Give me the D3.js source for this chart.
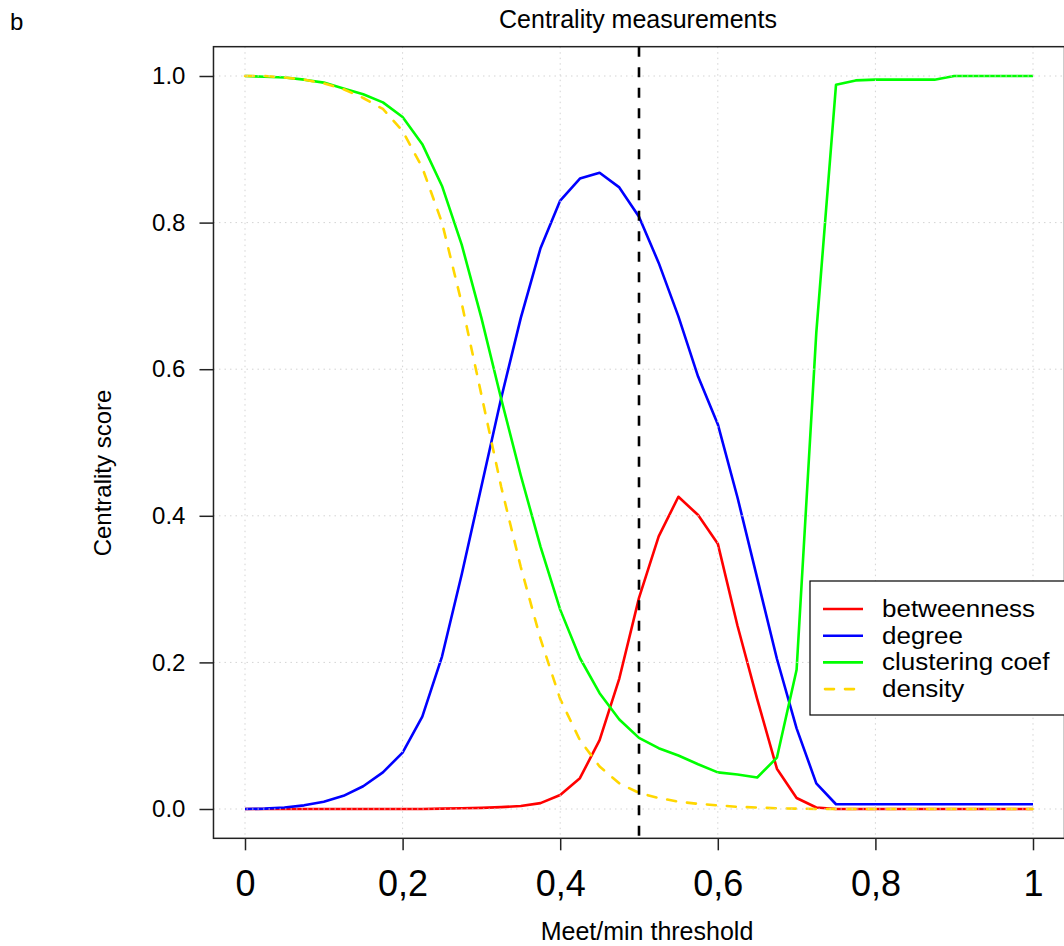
<!DOCTYPE html>
<html>
<head>
<meta charset="utf-8">
<script src="https://cdn.jsdelivr.net/npm/d3@7"></script>
<style>
  body { margin: 0; background: #fff; }
  svg { display: block; font-family: "Liberation Sans", Arial, sans-serif; }
</style>
</head>
<body>
<div id="vis"></div>
<script>
const FRAME_WIDTH = 1064;
const FRAME_HEIGHT = 946;

// threshold values on the x axis
const thresholds = [0, 0.025, 0.05, 0.075, 0.1, 0.125, 0.15, 0.175, 0.2, 0.225,
  0.25, 0.275, 0.3, 0.325, 0.35, 0.375, 0.4, 0.425, 0.45, 0.475,
  0.5, 0.525, 0.55, 0.575, 0.6, 0.625, 0.65, 0.675, 0.7, 0.725,
  0.75, 0.775, 0.8, 0.825, 0.85, 0.875, 0.9, 0.925, 0.95, 0.975, 1];

const betweenness = [0, 0, 0, 0, 0, 0, 0, 0, 0, 0,
  0.0005, 0.001, 0.0015, 0.0025, 0.004, 0.008, 0.019, 0.042, 0.094, 0.178,
  0.288, 0.372, 0.426, 0.401, 0.362, 0.25, 0.15, 0.055, 0.015, 0.002,
  0, 0, 0, 0, 0, 0, 0, 0, 0, 0, 0];

const degree = [0, 0.0005, 0.002, 0.005, 0.01, 0.018, 0.031, 0.05, 0.077, 0.126,
  0.208, 0.32, 0.44, 0.56, 0.67, 0.765, 0.83, 0.86, 0.868, 0.848,
  0.808, 0.745, 0.672, 0.59, 0.525, 0.425, 0.315, 0.205, 0.11, 0.035,
  0.0065, 0.0065, 0.0065, 0.0065, 0.0065, 0.0065, 0.0065, 0.0065, 0.0065, 0.0065, 0.0065];

const clustering = [1, 0.999, 0.998, 0.995, 0.991, 0.983, 0.975, 0.964, 0.944, 0.907,
  0.85, 0.77, 0.67, 0.56, 0.455, 0.358, 0.272, 0.206, 0.158, 0.122,
  0.097, 0.083, 0.073, 0.061, 0.05, 0.047, 0.043, 0.07, 0.19, 0.65,
  0.988, 0.994, 0.995, 0.995, 0.995, 0.995, 1, 1, 1, 1, 1];

const density = [1, 1, 0.998, 0.995, 0.99, 0.982, 0.97, 0.955, 0.925, 0.875,
  0.8, 0.69, 0.565, 0.44, 0.33, 0.232, 0.15, 0.094, 0.058, 0.035,
  0.022, 0.015, 0.01, 0.007, 0.005, 0.003, 0.002, 0.001, 0.0005, 0,
  0, 0, 0, 0, 0, 0, 0, 0, 0, 0, 0];

const xTicks = [0, 0.2, 0.4, 0.6, 0.8, 1];
const xTickLabels = ["0", "0,2", "0,4", "0,6", "0,8", "1"];
const yTicks = [0, 0.2, 0.4, 0.6, 0.8, 1];
const yTickLabels = ["0.0", "0.2", "0.4", "0.6", "0.8", "1.0"];
const cutoff = 0.5;

const seriesNames = ["betweenness", "degree", "clustering coef", "density"];
const seriesColors = ["#ff0000", "#0000ff", "#00ff00", "#ffd700"];
const seriesValues = [betweenness, degree, clustering, density];

const svg = d3.select("#vis")
  .append("svg")
    .attr("width", FRAME_WIDTH)
    .attr("height", FRAME_HEIGHT);

const x = d3.scaleLinear().domain([0, 1]).range([245, 1033]);
const y = d3.scaleLinear().domain([0, 1]).range([809, 76]);

const boxL = x(-0.04), boxR = x(1.04), boxT = y(1.04), boxB = y(-0.04);

// lines
const line = d3.line()
  .x((d, i) => x(thresholds[i]))
  .y(d => y(d));

seriesValues.forEach((vals, k) => {
  const p = svg.append("path")
    .datum(vals)
    .attr("d", line)
    .attr("fill", "none")
    .attr("stroke", seriesColors[k])
    .attr("stroke-width", 2.6)
    .attr("stroke-linejoin", "round");
  if (k === 3) {
    p.attr("stroke-dasharray", "9,11").attr("stroke-linecap", "round");
  }
});

// grid, drawn on top like R's grid()
svg.append("g").selectAll("line")
  .data(xTicks)
  .enter().append("line")
    .attr("x1", d => x(d)).attr("x2", d => x(d))
    .attr("y1", boxT).attr("y2", boxB)
    .attr("stroke", "#d3d3d3").attr("stroke-width", 1)
    .attr("stroke-dasharray", "1.5,4");
svg.append("g").selectAll("line")
  .data(yTicks)
  .enter().append("line")
    .attr("x1", boxL).attr("x2", boxR)
    .attr("y1", d => y(d)).attr("y2", d => y(d))
    .attr("stroke", "#d3d3d3").attr("stroke-width", 1)
    .attr("stroke-dasharray", "1.5,4");

// threshold marker
svg.append("line")
  .attr("x1", x(cutoff)).attr("x2", x(cutoff))
  .attr("y1", boxT).attr("y2", boxB)
  .attr("stroke", "#000").attr("stroke-width", 2.6)
  .attr("stroke-dasharray", "10,10.5");

// box
svg.append("rect")
  .attr("x", boxL).attr("y", boxT)
  .attr("width", boxR - boxL).attr("height", boxB - boxT)
  .attr("fill", "none").attr("stroke", "#222").attr("stroke-width", 1.5);

// axes
const xAxis = svg.append("g")
  .attr("transform", "translate(0," + boxB + ")")
  .call(d3.axisBottom(x).tickValues(xTicks).tickSize(12).tickPadding(20)
    .tickFormat((d, i) => xTickLabels[i]));
xAxis.select(".domain").remove();
xAxis.selectAll("line").attr("stroke", "#222").attr("stroke-width", 1.5);
xAxis.selectAll("text").attr("font-size", 36).attr("fill", "#000")
  .attr("font-family", "Liberation Sans, Arial, sans-serif");

const yAxis = svg.append("g")
  .attr("transform", "translate(" + boxL + ",0)")
  .call(d3.axisLeft(y).tickValues(yTicks).tickSize(14).tickPadding(14)
    .tickFormat((d, i) => yTickLabels[i]));
yAxis.select(".domain").remove();
yAxis.selectAll("line").attr("stroke", "#222").attr("stroke-width", 1.5);
yAxis.selectAll("text").attr("font-size", 24).attr("fill", "#000")
  .attr("font-family", "Liberation Sans, Arial, sans-serif");

// titles
svg.append("text")
  .attr("x", 638).attr("y", 28)
  .attr("text-anchor", "middle").attr("font-size", 25)
  .text("Centrality measurements");
svg.append("text")
  .attr("x", 647).attr("y", 940)
  .attr("text-anchor", "middle").attr("font-size", 25)
  .text("Meet/min threshold");
svg.append("text")
  .attr("transform", "translate(111,473) rotate(-90)")
  .attr("text-anchor", "middle").attr("font-size", 24)
  .text("Centrality score");
svg.append("text")
  .attr("x", 10).attr("y", 30)
  .attr("font-size", 24)
  .text("b");

// legend
const legend = svg.append("g").attr("transform", "translate(810,581)");
legend.append("rect")
  .attr("x", 0).attr("y", 0)
  .attr("width", 300).attr("height", 134)
  .attr("fill", "#fff").attr("stroke", "#000").attr("stroke-width", 1.2);
seriesNames.forEach((name, k) => {
  const ly = 28 + k * 26.7;
  const l = legend.append("line")
    .attr("x1", 13).attr("x2", 53)
    .attr("y1", ly).attr("y2", ly)
    .attr("stroke", seriesColors[k]).attr("stroke-width", 2.6);
  if (k === 3) l.attr("stroke-dasharray", "9,11").attr("stroke-linecap", "round").attr("x1", 15);
  // reference legend text is a bit wide for its height
  legend.append("text")
    .attr("transform", "translate(72," + (ly + 8) + ") scale(1.13,1)")
    .attr("font-size", 23)
    .text(name);
});
</script>
</body>
</html>
